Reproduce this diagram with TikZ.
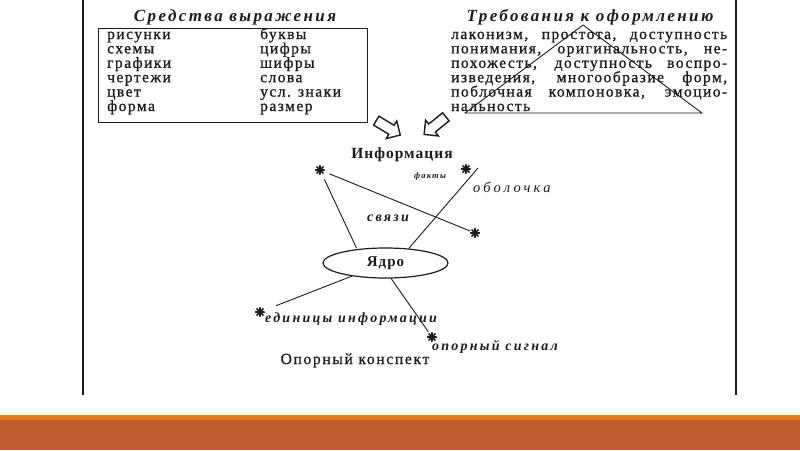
\documentclass[tikz,border=0pt]{standalone}
\usepackage{fontspec}
\setmainfont{Liberation Serif}
\newfontfamily\bodyf{Liberation Serif}[LetterSpace=9.5,FakeBold=1]
\newfontfamily\infof{Liberation Serif}[LetterSpace=6.5]
\newfontfamily\headf{Liberation Serif}[LetterSpace=14]
\newfontfamily\italf{Liberation Serif}[LetterSpace=16]
\newfontfamily\konspf{Liberation Serif}[LetterSpace=11,FakeBold=1]
\usetikzlibrary{shapes.geometric,shapes.arrows}
\definecolor{ink}{HTML}{1C1C1C}
\definecolor{bandlight}{HTML}{E27E1E}
\definecolor{banddark}{HTML}{BE5A2C}
\tikzset{
  item/.style={inner sep=0pt, anchor=base west, text=ink, font=\bodyf\fontsize{15.5}{15.5}\selectfont},
  head/.style={inner sep=0pt, text=ink, font=\headf\bfseries\itshape\fontsize{17}{17}\selectfont},
  lbl/.style={inner sep=0pt, text=ink, font=\infof\bfseries\fontsize{15.5}{15.5}\selectfont},
  ital/.style={inner sep=0pt, text=ink, font=\italf\bfseries\itshape\fontsize{14}{14}\selectfont},
  frame/.style={draw=ink, line width=1.1pt},
  box/.style={draw=ink, line width=0.9pt},
  conn/.style={draw=ink, line width=0.9pt},
  astr/.style={circle, inner sep=0pt, minimum size=10pt, path picture={
      \foreach \a in {0,45,90,135}{
        \draw[ink, line width=1.6pt] ([shift={(\a:5pt)}]path picture bounding box.center) -- ([shift={(\a+180:5pt)}]path picture bounding box.center);}
  }},
  blockarrow/.style={single arrow, draw=ink, line width=1.4pt, fill=white, inner sep=0pt, inner ysep=4.5pt,
      minimum height=28pt, minimum width=19pt, single arrow head extend=5pt, single arrow head indent=0pt},
  core/.style={ellipse, draw=ink, line width=1.2pt, minimum width=125pt, minimum height=30pt, inner sep=0pt,
      font=\infof\bfseries\fontsize{15}{15}\selectfont, text=ink}
}
\begin{document}
\begin{tikzpicture}[x=1pt,y=-1pt]
\useasboundingbox (0,0) rectangle (800,450);
\fill[white] (0,0) rectangle (800,450);
\fill[bandlight] (0,415) rectangle (800,420);
\fill[banddark] (0,420) rectangle (800,450);
% outer frame
\draw[frame] (83,0) -- (83,395);
\draw[frame] (736,0) -- (736,395);
% left block
\node[head] (h1) at (235,17) {Средства выражения};
\draw[box] (98,28) rectangle (367,122);
\foreach \t [count=\i from 0] in {рисунки,схемы,графики,чертежи,цвет,форма}
  \node[item] (l\i) at (107,39+14.4*\i) {\t};
\foreach \t [count=\i from 0] in {буквы,цифры,шифры,слова,усл. знаки,размер}
  \node[item] (r\i) at (260,39+14.4*\i) {\t};
% right block
\node[head] (h2) at (590,17) {Требования к оформлению};
\node[item] (p0) at (451,39) {\makebox[276pt][s]{лаконизм, простота, доступность}};
\node[item] (p1) at (451,53.4) {\makebox[276pt][s]{понимания, оригинальность, не-}};
\node[item] (p2) at (451,67.8) {\makebox[276pt][s]{похожесть, доступность воспро-}};
\node[item] (p3) at (451,82.2) {\makebox[276pt][s]{изведения, многообразие форм,}};
\node[item] (p4) at (451,96.6) {\makebox[276pt][s]{поблочная компоновка, эмоцио-}};
\node[item] (p5) at (451,111) {нальность};
\draw[ink, line width=0.9pt] (583,25) -- (465,113) -- (702,113) -- cycle;
% block arrows
\node[blockarrow, rotate=-31] (a1) at (386,126.5) {};
\node[blockarrow, rotate=219] (a2) at (437,124) {};
% scheme
\node[lbl] (info) at (402,155) {Информация};
\node[astr] (s1) at (320,170) {};
\node[astr] (s2) at (466,169) {};
\node[astr] (s3) at (475,233) {};
\node[astr] (s4) at (260,312) {};
\node[astr] (s5) at (432,337) {};
\node[core] (core) at (385.5,263) {Ядро};
\coordinate (ftop) at (478,168);
\node[inner sep=0pt, text=ink, font=\headf\bfseries\itshape\fontsize{8.5}{8.5}\selectfont] (fakty) at (430,176) {факты};
\node[anchor=base west, inner sep=0pt, text=ink, font=\headf\itshape\fontsize{14.5}{14.5}\selectfont\addfontfeature{LetterSpace=22}] (obol) at (473,192) {оболочка};
\node[ital] (svyazi) at (388,218) {связи};
\node[ital, anchor=base west] (edin) at (265,322) {единицы информации};
\node[ital, anchor=base west] (signal) at (432,350) {опорный сигнал};
\node[inner sep=0pt, text=ink, font=\konspf\fontsize{15.5}{15.5}\selectfont, anchor=base] (konsp) at (355,364) {Опорный конспект};
% connectors
\draw[conn, shorten <=5pt] (s1) -- (s3);
\draw[conn, shorten <=5pt, shorten >=1pt] (s1) -- (core.154);
\draw[conn] (ftop) -- (core.32);
\draw[conn, shorten >=12pt] (core) -- (s4);
\draw[conn, shorten >=1pt] (core.290) -- (s5);
\end{tikzpicture}
\end{document}
